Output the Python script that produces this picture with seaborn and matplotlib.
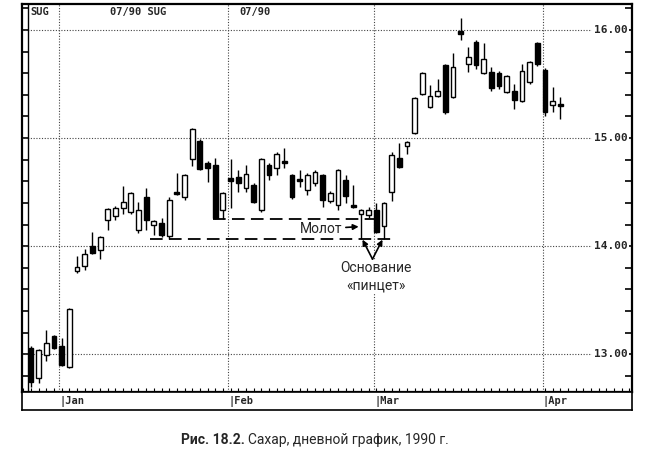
import numpy as np
import pandas as pd
import matplotlib.pyplot as plt
import matplotlib.transforms as mtransforms
import seaborn as sns

# daily sugar prices, late Dec 1989 - early Apr 1990
opens = [13.06, 12.78, 12.99, 13.17, 13.08, 12.88, 13.77, 13.82, 14.00, 13.96,
         14.24, 14.28, 14.35, 14.32, 14.15, 14.45, 14.20, 14.21, 14.09, 14.50,
         14.45, 14.81, 14.97, 14.77, 14.75, 14.33, 14.63, 14.64, 14.54, 14.57,
         14.33, 14.75, 14.72, 14.78, 14.66, 14.61, 14.52, 14.58, 14.66, 14.42,
         14.38, 14.61, 14.37, 14.30, 14.29, 14.33, 14.19, 14.50, 14.82, 14.93,
         15.05, 15.41, 15.29, 15.39, 15.68, 15.38, 15.99, 15.69, 15.89, 15.60,
         15.61, 15.60, 15.43, 15.44, 15.34, 15.52, 15.88, 15.63, 15.31, 15.31]
highs = [13.08, 13.05, 13.22, 13.18, 13.15, 13.43, 13.91, 13.97, 14.13, 14.09,
         14.35, 14.37, 14.56, 14.50, 14.41, 14.54, 14.24, 14.26, 14.45, 14.68,
         14.67, 15.09, 14.99, 14.79, 14.82, 14.50, 14.81, 14.70, 14.75, 14.58,
         14.82, 14.77, 14.87, 14.91, 14.67, 14.70, 14.68, 14.70, 14.67, 14.51,
         14.71, 14.66, 14.57, 14.34, 14.36, 14.40, 14.41, 14.87, 14.95, 14.97,
         15.38, 15.61, 15.49, 15.55, 15.69, 15.79, 16.11, 15.84, 15.91, 15.88,
         15.66, 15.62, 15.58, 15.50, 15.69, 15.71, 15.89, 15.65, 15.47, 15.38]
lows = [12.70, 12.73, 12.94, 13.05, 12.89, 12.87, 13.75, 13.78, 13.93, 13.88,
        14.15, 14.24, 14.30, 14.30, 14.12, 14.15, 14.10, 14.08, 14.07, 14.47,
        14.43, 14.74, 14.70, 14.59, 14.25, 14.25, 14.35, 14.50, 14.50, 14.40,
        14.32, 14.61, 14.66, 14.72, 14.44, 14.55, 14.47, 14.56, 14.36, 14.40,
        14.33, 14.40, 14.35, 14.07, 14.26, 14.12, 14.07, 14.42, 14.72, 14.85,
        15.04, 15.40, 15.28, 15.38, 15.22, 15.37, 15.91, 15.61, 15.64, 15.59,
        15.44, 15.45, 15.42, 15.27, 15.33, 15.50, 15.67, 15.20, 15.24, 15.18]
closes = [12.74, 13.04, 13.10, 13.06, 12.90, 13.42, 13.81, 13.93, 13.94, 14.08,
          14.34, 14.35, 14.41, 14.49, 14.33, 14.24, 14.23, 14.10, 14.43, 14.48,
          14.66, 15.08, 14.71, 14.72, 14.26, 14.49, 14.60, 14.58, 14.67, 14.41,
          14.81, 14.66, 14.85, 14.77, 14.45, 14.60, 14.66, 14.69, 14.43, 14.49,
          14.70, 14.46, 14.36, 14.33, 14.33, 14.13, 14.40, 14.84, 14.73, 14.96,
          15.37, 15.60, 15.39, 15.44, 15.24, 15.66, 15.96, 15.75, 15.68, 15.73,
          15.46, 15.48, 15.57, 15.35, 15.62, 15.70, 15.69, 15.24, 15.34, 15.30]

month_labels = ["Jan", "Feb", "Mar", "Apr"]
month_starts = [4, 26, 45, 67]
price_levels = [13, 14, 15, 16]
hammer_support = 14.25
tweezer_support = 14.07

sns.set_theme(style="white")
plt.rcParams['font.family'] = ['Roboto', 'DejaVu Sans']
mono = 'DejaVu Sans Mono'

df = pd.DataFrame({"open": opens, "high": highs, "low": lows, "close": closes})
df["day"] = np.arange(len(df))
df["up"] = df["close"] >= df["open"]
df["bottom"] = df[["open", "close"]].min(axis=1)
df["body"] = (df["close"] - df["open"]).abs().clip(lower=0.018)

fig = plt.figure(figsize=(6.5, 4.55), dpi=100)
ax = fig.add_axes([0.034, 0.1385, 0.938, 0.8525])
ax.set_xlim(-1.17, 78.3)
ax.set_ylim(12.65, 16.24)

# grid + price labels on the right
trans = mtransforms.blended_transform_factory(ax.transAxes, ax.transData)
for p in price_levels:
    ax.axhline(p, color='#444444', lw=0.8, ls=(0, (1, 1.5)), zorder=1)
    ax.text(0.993, p, f"{p:.2f}", transform=trans, ha='right', va='center',
            fontfamily=mono, fontweight='bold', fontsize=8,
            bbox=dict(fc='white', ec='none', pad=1), zorder=4)
for m in month_starts:
    ax.axvline(m - 0.3, color='#444444', lw=0.8, ls=(0, (1, 1.5)), zorder=1)

# candles
ax.vlines(df["day"], df["low"], df["high"], color='black', lw=1, zorder=2)
ax.bar(df["day"], df["body"], bottom=df["bottom"], width=0.62,
       color=np.where(df["up"], 'white', 'black'), edgecolor='black',
       linewidth=1, zorder=3)

# support lines
ax.hlines(hammer_support, 23.7, 44.8, color='black', lw=1.3, ls=(0, (7, 3.5)), zorder=2)
ax.hlines(tweezer_support, 15.5, 47.4, color='black', lw=1.3, ls=(0, (7, 3.5)), zorder=2)

# annotations
ax.annotate("Молот", xy=(42.7, 14.18), xytext=(40.6, 14.16), ha='right', va='center',
            fontsize=10, arrowprops=dict(arrowstyle='-|>', color='black', lw=1.2,
                                         shrinkA=0, shrinkB=0, mutation_scale=8))
ax.text(44.9, 13.72, "Основание\n«пинцет»", ha='center', va='center', fontsize=10,
        linespacing=1.3, bbox=dict(fc='white', ec='none', pad=0.5), zorder=5)
for tip in [(43.2, 14.06), (45.8, 14.06)]:
    ax.annotate("", xy=tip, xytext=(44.5, 13.88),
                arrowprops=dict(arrowstyle='-|>', color='black', lw=1.2,
                                shrinkA=0, shrinkB=0, mutation_scale=8))

# ticks: daily on bottom, 0.2 ruler on both sides
ax.set_xticks(np.arange(-1, 79), labels=[])
ax.set_yticks(np.arange(12.8, 16.21, 0.2), labels=[])
ax.tick_params(axis='x', bottom=True, direction='in', length=3, width=0.8, color='black')
ax.tick_params(axis='y', left=True, right=True, direction='in', length=5, width=1.2, color='black')
ax.plot([0.009, 0.009], [0, 1], transform=ax.transAxes, color='black', lw=1, clip_on=False)
for s in ax.spines.values():
    s.set_color('black')
    s.set_linewidth(1.6)

# header
for x, t in [(0.046, "SUG"), (0.169, "07/90 SUG"), (0.369, "07/90")]:
    fig.text(x, 0.974, t, fontfamily=mono, fontweight='bold', fontsize=7.5, va='center')

# month strip
ax2 = fig.add_axes([0.034, 0.0989, 0.938, 0.0396])
ax2.set_xlim(ax.get_xlim())
ax2.set_ylim(0, 1)
ax2.set_xticks([])
ax2.set_yticks([])
for s in ax2.spines.values():
    s.set_color('black')
    s.set_linewidth(1.2)
for m, lab in zip(month_starts, month_labels):
    ax2.text(m - 0.3, 0.45, "|" + lab, fontfamily=mono, fontweight='bold',
             fontsize=7.5, ha='left', va='center')

# caption
fig.text(0.377, 0.033, "Рис. 18.2.", ha='right', va='center', fontsize=10, fontweight='bold')
fig.text(0.382, 0.033, "Сахар, дневной график, 1990 г.", ha='left', va='center', fontsize=10)

fig.savefig("out.png", dpi=100)
